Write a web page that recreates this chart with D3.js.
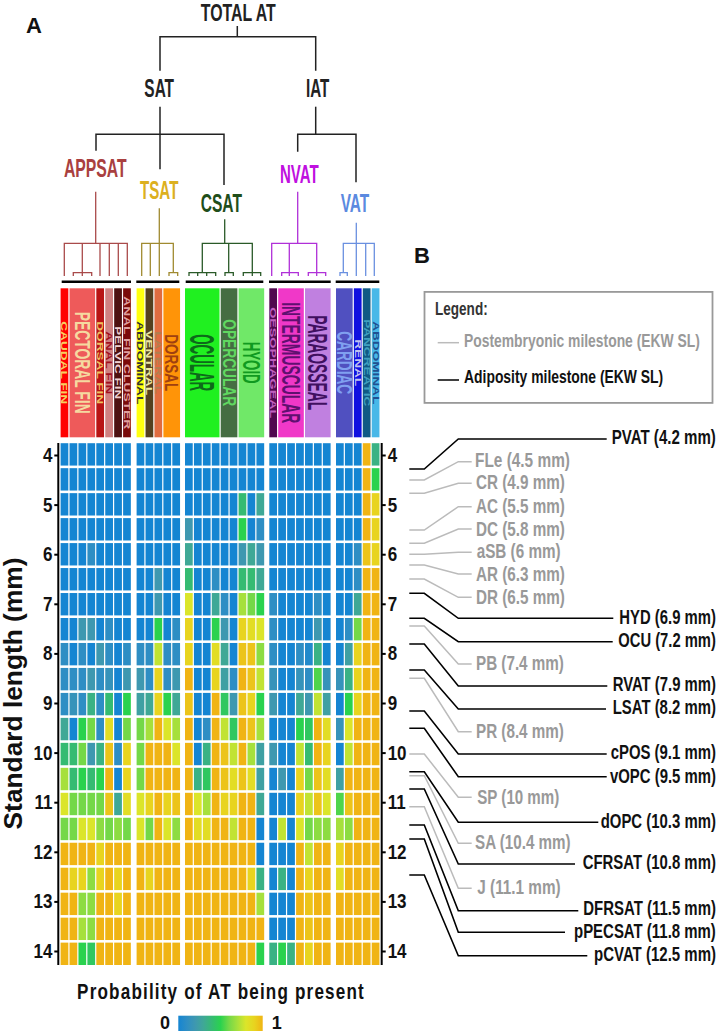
<!DOCTYPE html>
<html><head><meta charset="utf-8">
<style>html,body{margin:0;padding:0;background:#fff}svg{display:block}text{font-family:"Liberation Sans",Arial,sans-serif}</style>
<script src="https://cdnjs.cloudflare.com/ajax/libs/d3/7.8.5/d3.min.js"></script>
</head><body><svg id="c" width="720" height="1036"></svg>
<script>
// ---------- DATA ----------
const standardLength = [4,4.5,5,5.5,6,6.5,7,7.5,8,8.5,9,9.5,10,10.5,11,11.5,12,12.5,13,13.5,14];
const axisTicks = [4,5,6,7,8,9,10,11,12,13,14];
// probability ×10, one row per standard length
const appsat = [
[0,0,0,0,0,0,0,0],[0,0,0,0,0,0,0,0],[0,0,0,0,0,0,0,0],[0,0,0,0,0,0,0,0],
[0,0,0,1,0,0,0,0],[0,0,0,0,0,0,0,0],[0,0,0,0,0,0,0,0],[0,0,2,2,0,1,0,0],
[1,0,1,0,2,1,0,1],[1,1,1,2,1,1.5,0,2],[1,1.5,1,3.5,1,4,0,5],[3,0,5,6,1,8.5,0,6],
[4,4,6,2,3.5,9.5,1,9],[7,4,5,4,5,10,0,9],[8,6,6,6,6,9.5,3,8.5],[6,6,8,8,6.5,6,6.5,6],
[10,10,10,10,9,10,10,10],[10,9,9,6.5,9,10,9,10],[10,10,6.5,6.5,10,10,9,10],[10,10,7,6.5,10,10,10,10],[10,10,5,4.5,10,10,10,10]];
const tsat = [
[0,0,0,0,0],[0,0,0,0,0],[0,0,0,0,0],[0,0,0,0,0],
[0,0,0,0,0],[0,0,2,0,0],[0,0,2,0,0],[0,0,5,0,1],
[1,1,7.5,1,1],[2,1,9,1,2],[2.5,3,9,5,3],[6,7,10,8,7],
[6,10,10,10,8],[6,10,10,10,10],[8,9,10,9,9.5],[8,6,10,8,6.5],
[10,10,10,10,10],[10,9,10,10,10],[10,10,10,10,10],[10,10,10,10,10],[10,10,10,10,10]];
const csat = [
[0,0,0,0,0,0,0,0,0],[0,0,0,0,0,0,0,0,0],[0,0,0,0,0,0,4,0,3],[2,0,0,0,0,0,5,0,1],
[3,0,0,0,0,0,2,3,2],[4,0,0,1,0,0,4,4,3],[8,0,0,3,1,0,7,6,5],[9,0,0,5,2,0,9,8.5,8],
[9,0,0,8.5,3,0,9.5,9.5,6.5],[10,0,0,9,2.5,1,10,9.5,7.5],[9.5,0,0,10,4.5,2,9.5,9,5],[10,0,1,10,7.5,4.5,10,9.5,7],
[10,0,3.5,10,9.5,7.5,10,7,2.5],[10,3.5,4.5,10,9.5,8.5,9.5,8.5,2.5],[10,8,7,10,9,9,10,10,3],[10,8.5,8.5,10,10,7.5,10,10,0],
[10,10,10,10,10,10,10,10,0],[10,10,10,10,10,10,10,9,3.5],[10,10,10,10,10,10,10,10,7],[10,10,10,10,10,10,10,10,10],[10,10,10,10,10,10,10,10,5]];
const nvat = [
[0,0,0,0,0,0,0],[0,0,0,0,0,0,0],[0,0,0,0,0,0,0],[0,0,0,0,0,0,0],
[0,0,0,0,0,0,0],[0,0,0,0,0,0,0],[1,0,0,0,0,1,0],[1,0,0,0,0,2,0],
[1,0,0,1,.5,3.5,0],[1.5,0,0,1.5,1,5.5,1.5],[2,0,0,3,2,7.5,2.5],[0,0,0,5,4.5,10,8.5],
[2,0,0,7.5,4,10,9],[0,2,0,9,6,9.5,8.5],[0,0,0,9,7.5,9.5,8],[0,7.5,0,8,6,6.5,6.5],
[0,0,0,10,7.5,10,10],[0,3.5,0,10,9,10,10],[0,0,0,10,9.5,10,10],[0,0,0,10,9.5,10,10],[3.5,5,3.5,10,9,10,10]];
const vat = [
[0,0,0,10,3.5],[0,0,0,10,5],[0,0,0,10,9],[0,0,0,10,9],
[0,0,1,9.5,9],[0,0,1,10,10],[0,0,3,10,10],[0,1,6,10,10],
[0,2.5,9,10,10],[1.5,3.5,9,10,10],[0,5,9,10,10],[1.5,8,10,10,10],
[0,7.5,10,10,10],[2.5,10,10,10,10],[5.5,9.5,10,10,10],[7,6.5,10,10,10],
[9,10,10,10,10],[8.5,10,10,10,10],[10,10,10,10,10],[10,10,10,10,10],[10,10,10,10,10]];
const groupNames = ["APPSAT","TSAT","CSAT","NVAT","VAT"];
const headerNames = ["CAUDAL FIN","PECTORAL FIN","DORSAL FIN","ANAL FIN","PELVIC FIN","ANAL FIN CLUSTER","ABDOMINAL","VENTRAL","LATERAL","DORSAL","OCULAR","OPERCULAR","HYOID","OESOPHAGEAL","INTERMUSCULAR","PARAOSSEAL","CARDIAC","RENAL","PANCREATIC","ABDOMINAL"];
const headerGroup = [0,0,0,0,0,0,1,1,1,1,2,2,2,3,3,3,4,4,4,4];
const headerSpan = [1,3,1,1,1,1,1,1,1,2,4,2,3,1,3,3,2,1,1,1];
const milestoneNames = ["PVAT","FLe","CR","AC","DC","aSB","AR","DR","HYD","OCU","PB","RVAT","LSAT","PR","cPOS","vOPC","SP","dOPC","SA","CFRSAT","J","DFRSAT","pPECSAT","pCVAT"];
const milestoneMm = [4.2,4.5,4.9,5.5,5.8,6,6.3,6.5,6.9,7.2,7.4,7.9,8.2,8.4,9.1,9.5,10,10.3,10.4,10.8,11.1,11.5,11.8,12.5];
const milestoneAdipose = [1,0,0,0,0,0,0,0,1,1,0,1,1,0,1,1,0,1,0,1,0,1,1,1];

// ---------- STYLE / LAYOUT ----------
const headerFill = ["#ff0000","#ee5a5a","#b81414","#d08080","#4e1010","#7a0a0a","#ffff10","#55401f","#e06c40","#ff9408","#20f020","#456d42","#70e868","#50084f","#f038c8","#c080e0","#5050c0","#1010e0","#105a85","#48b8e8"];
const headerInk = ["#f5d060","#f5d9a0","#f0c060","#a01020","#f0d0d0","#e0a0a0","#333333","#f0e8a0","#b08050","#a04010","#0d6a1a","#60d860","#109a20","#c060c0","#601070","#401060","#80a0f0","#c0c0f0","#40a0c0","#205090"];
const headerLen = [83,102,83,63,73,133,83,65,63,57,57,87,42,111,121,95,63,47,87,83];
const headerCap = [6,15,6,6,6,6,6,6,6,13,24,13,17,6,18,19,15,6,6,6];
const groupStart = [60.6,136.6,185,269.3,336];
const groupInk = ["#a94040","#dcb020","#1f4e1a","#c010e0","#5b8ae0"];
const pitch = 8.93, tileGap = 1.2;
const probColors = ["#1585d2","#2e8ec4","#3e98b0","#3fa896","#35bb72","#2ad24e","#74d848","#a6e03c","#dbe52a","#e8d41f","#f0b414"];
const trunkY = [469,480,493.3,530,543.3,554.3,565,579,593.3,618.3,626,644,670,678.3,711,728.3,754,771.7,775.7,789,806.7,825,839,875];
const shelfY = [439,461.7,483.3,506.7,529,552.3,574,597.3,618.3,641.7,664,686,709,731.7,754,776.7,797.3,822.3,843.3,864,888.3,910.7,932.3,955.7];
const labelY = [436.7,459.2,481.5,505.7,528.3,550,573.3,596.7,616.7,639.3,662.3,683.3,706.7,730,751.7,775,796,820,841,861.7,886.7,907.7,930,953.3];
const labelX0 = [611.7,475,476,476,476,476.7,476,476,619.3,618.3,476,612.7,612.7,476,610.7,610,477.3,600.7,475,582.7,477.3,583.3,574,594];
const labelX1 = [716,570,565,565,565,560.7,565,565,716,716,564,716,716,564,716,716,559.3,716,570.7,716,560.7,716,716,716];
const shelfEnd = [606.7,471.7,471.7,471.7,471.7,471.7,471.7,471.7,613.3,612.7,471.7,607.3,606,471.7,606.7,606.7,471.7,598.3,471.7,575,471.7,578.3,565,587.3];

const svg = d3.select("#c");
const color = d3.scaleLinear().domain(d3.range(0,11)).range(probColors).clamp(true);
const yBand = d3.scaleBand().domain(standardLength).range([443.2,965]).paddingInner(0.104).paddingOuter(0);
const groups = [appsat,tsat,csat,nvat,vat];
const xBands = groups.map((g,i)=>d3.scaleBand().domain(d3.range(g[0].length))
  .range([groupStart[i],groupStart[i]+g[0].length*pitch-tileGap]).paddingInner(tileGap/pitch).paddingOuter(0));

// text squeezed or stretched along its own axis to the measured length
function txt(sel,o){
  const t=sel.append("text").attr("text-anchor",o.anchor||"start")
    .attr("font-size",o.size).attr("font-weight",o.weight||"bold").attr("fill",o.fill||"#111").text(o.t);
  if(o.spacing) t.attr("letter-spacing",o.spacing);
  const sx=o.len? o.len/t.node().getComputedTextLength():1;
  t.attr("transform",`translate(${o.x},${o.y})${o.rot?` rotate(${o.rot})`:""} scale(${sx},1)`);
  return t;
}

// ---------- DENDROGRAM ----------
const line=d3.line();
const dendro=[
 {c:"#222",w:1.5,p:[[[237.3,26],[237.3,36.7]],[[160,70.7],[160,36.7],[315.7,36.7],[315.7,70.7]],
  [[160,106.7],[160,169.3]],[[96,150.7],[96,134.3],[224,134.3],[224,185]],
  [[315.7,106.7],[315.7,134.3]],[[297.7,151.7],[297.7,134.3],[356,134.3],[356,182.3]]]},
 {c:"#a94a4a",w:1.3,p:[[[95.7,191.7],[95.7,243.3]],[[64.3,276],[64.3,243.3],[127.3,243.3],[127.3,276]],
  [[82.3,243.3],[82.3,272.7]],[[100,243.3],[100,276]],[[109.3,243.3],[109.3,276]],[[118.3,243.3],[118.3,276]],
  [[73.3,276],[73.3,272.7],[91.7,272.7],[91.7,276]],[[82.3,272.7],[82.3,276]]]},
 {c:"#a08a30",w:1.3,p:[[[159.3,208.3],[159.3,243.3]],[[141.7,276],[141.7,243.3],[173.3,243.3],[173.3,272.7]],
  [[150.3,243.3],[150.3,276]],[[159.3,243.3],[159.3,276]],[[169,276],[169,272.7],[177.7,272.7],[177.7,276]]]},
 {c:"#2a5a28",w:1.3,p:[[[224.7,219.3],[224.7,243.3]],[[202.3,272.7],[202.3,243.3],[252.3,243.3],[252.3,272.7]],[[228.7,243.3],[228.7,272.7]],
  [[189,276],[189,272.7],[215.7,272.7],[215.7,276]],[[197.7,272.7],[197.7,276]],[[206.7,272.7],[206.7,276]],
  [[225,276],[225,272.7],[233.3,272.7],[233.3,276]],
  [[243.3,276],[243.3,272.7],[260.7,272.7],[260.7,276]],[[252.3,272.7],[252.3,276]]]},
 {c:"#b030d8",w:1.3,p:[[[297.7,191.7],[297.7,243.3]],[[271.7,276],[271.7,243.3],[316.7,243.3],[316.7,272.7]],[[289.3,243.3],[289.3,272.7]],
  [[281.7,276],[281.7,272.7],[298.3,272.7],[298.3,276]],[[289.3,272.7],[289.3,276]],
  [[308.3,276],[308.3,272.7],[325.7,272.7],[325.7,276]],[[316.7,272.7],[316.7,276]]]},
 {c:"#6a90e0",w:1.3,p:[[[356.3,222.7],[356.3,243.3]],[[343.3,272.7],[343.3,243.3],[374.3,243.3],[374.3,276]],
  [[356.3,243.3],[356.3,276]],[[365.7,243.3],[365.7,276]],[[340,276],[340,272.7],[347.3,272.7],[347.3,276]]]}
];
dendro.forEach(b=>b.p.forEach(pts=>svg.append("path").attr("d",line(pts)).attr("fill","none").attr("stroke",b.c).attr("stroke-width",b.w)));
const treeLabels=[
 {t:"TOTAL AT",x:238.2,y:21,len:75,c:"#222",s:23},{t:"SAT",x:159.2,y:97,len:29.7,c:"#222"},{t:"IAT",x:317.7,y:97,len:23.3,c:"#222"},
 {t:groupNames[0],x:95.3,y:176.5,len:62.7,c:groupInk[0]},{t:groupNames[1],x:159.2,y:198.5,len:38.3,c:groupInk[1]},
 {t:groupNames[2],x:221.3,y:211.5,len:41.3,c:groupInk[2]},{t:groupNames[3],x:299.3,y:182.5,len:38.7,c:groupInk[3]},{t:groupNames[4],x:355,y:211.8,len:28.6,c:groupInk[4]}];
treeLabels.forEach(l=>txt(svg,{t:l.t,x:l.x,y:l.y,anchor:"middle",size:l.s||25,fill:l.c,len:l.len}));
[[61.7,131],[136.3,179.3],[185.7,263.3],[269,330.7],[335.7,379.3]].forEach(d=>
  svg.append("line").attr("x1",d[0]).attr("x2",d[1]).attr("y1",281.7).attr("y2",281.7).attr("stroke","#000").attr("stroke-width",2.5));

// ---------- HEADER STRIPS ----------
let cursor=[0,0,0,0,0];
headerNames.forEach((n,i)=>{
  const g=headerGroup[i], c0=cursor[g], span=headerSpan[i]; cursor[g]+=span;
  const x0=xBands[g](c0), x1=xBands[g](c0+span-1)+xBands[g].bandwidth();
  svg.append("rect").attr("x",x0).attr("y",288.3).attr("width",x1-x0).attr("height",149).attr("fill",headerFill[i]);
  const cx=(x0+x1)/2, cap=headerCap[i], fs=cap/0.7;
  txt(svg,{t:n,x:cx-cap/2,y:362.7,rot:90,anchor:"middle",size:fs,weight:"bold",fill:headerInk[i],len:headerLen[i]});
});

// ---------- HEATMAP ----------
groups.forEach((g,gi)=>{
  svg.append("g").selectAll("g").data(g).join("g").attr("transform",(d,r)=>`translate(0,${yBand(standardLength[r])})`)
    .selectAll("rect").data(d=>d).join("rect")
    .attr("x",(d,c)=>xBands[gi](c)).attr("width",xBands[gi].bandwidth()).attr("height",yBand.bandwidth()).attr("fill",d=>color(d));
});

// ---------- AXES ----------
const yTick=d3.scaleLinear().domain([4,14]).range([455,951]);
function styleAxis(a){
  a.selectAll("path").attr("stroke","#000").attr("stroke-width",2);
  a.selectAll("line").attr("stroke","#000").attr("stroke-width",2);
  a.selectAll("text").attr("font-size",20).attr("font-weight","bold").attr("fill","#111");
}
const left=svg.append("g").attr("transform","translate(58.3,0)").call(d3.axisLeft(yTick).tickValues(axisTicks).tickSize(4).tickSizeOuter(0).tickPadding(3));
left.select("path").attr("d","M0,443V965");
styleAxis(left);
const right=svg.append("g").attr("transform","translate(381.7,0)").call(d3.axisRight(yTick).tickValues(axisTicks).tickSize(4).tickSizeOuter(0).tickPadding(3));
right.select("path").attr("d","M0,443V965");
styleAxis(right);
left.selectAll(".tick text").attr("transform","scale(0.85,1)");
right.selectAll(".tick text").attr("transform","scale(0.85,1)");

txt(svg,{t:"Standard length (mm)",x:22,y:693.5,rot:-90,anchor:"middle",size:25,len:272});
txt(svg,{t:"Probability of AT being present",x:221,y:999,anchor:"middle",size:22,len:288,spacing:1.5});
txt(svg,{t:"A",x:26,y:33,size:22,fill:"#111"});
txt(svg,{t:"B",x:414,y:263,size:22,fill:"#111"});

// ---------- COLOUR BAR ----------
const defs=svg.append("defs");
const lg=defs.append("linearGradient").attr("id","cb");
probColors.forEach((c,i)=>lg.append("stop").attr("offset",(i/10*100)+"%").attr("stop-color",c));
svg.append("rect").attr("x",178.3).attr("y",1015.7).attr("width",84.4).attr("height",15.3).attr("fill","url(#cb)");
txt(svg,{t:"0",x:165,y:1029,anchor:"middle",size:18});
txt(svg,{t:"1",x:276.7,y:1029,anchor:"middle",size:18});

// ---------- LEGEND B ----------
svg.append("rect").attr("x",424.5).attr("y",291.9).attr("width",288).attr("height",111).attr("fill","none").attr("stroke","#999").attr("stroke-width",1.8);
txt(svg,{t:"Legend:",x:435,y:315,size:18,fill:"#333",len:52.7});
svg.append("line").attr("x1",437.7).attr("x2",459).attr("y1",342.7).attr("y2",342.7).attr("stroke","#bbb").attr("stroke-width",1.5);
txt(svg,{t:"Postembryonic milestone (EKW SL)",x:464,y:347,size:18,fill:"#999",len:236});
svg.append("line").attr("x1",437.7).attr("x2",459).attr("y1",380).attr("y2",380).attr("stroke","#000").attr("stroke-width",1.5);
txt(svg,{t:"Adiposity milestone (EKW SL)",x:464,y:383,size:18,fill:"#111",len:199.3});

// ---------- MILESTONES ----------
const trunk=d3.scaleLinear().domain(milestoneMm).range(trunkY);
const order=d3.range(milestoneNames.length).sort((a,b)=>milestoneAdipose[a]-milestoneAdipose[b]);
order.forEach(i=>{
  const y0=trunk(milestoneMm[i]), ad=milestoneAdipose[i];
  svg.append("path").attr("d",line([[409.3,y0],[424.3,y0],[458.3,shelfY[i]],[shelfEnd[i],shelfY[i]]]))
    .attr("fill","none").attr("stroke",ad?"#000":"#bbb").attr("stroke-width",ad?1.6:1.5);
  txt(svg,{t:`${milestoneNames[i]} (${milestoneMm[i]} mm)`,x:labelX0[i],y:labelY[i]+7.5,size:21,fill:ad?"#111":"#999",len:labelX1[i]-labelX0[i]});
});
</script></body></html>
